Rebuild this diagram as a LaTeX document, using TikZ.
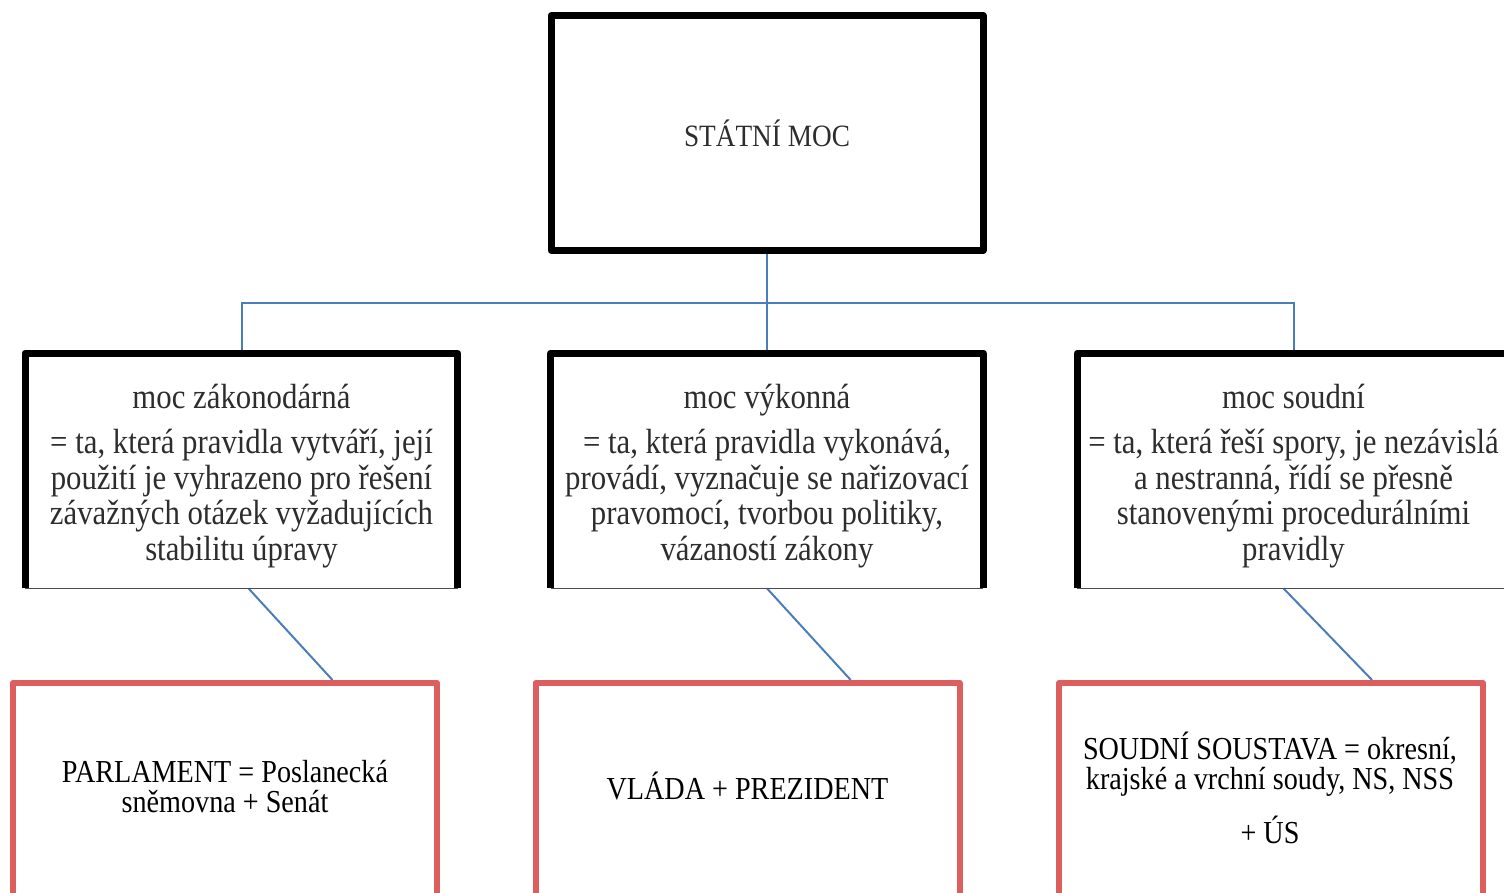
\documentclass[tikz,border=0pt]{standalone}
\usepackage{fontspec}
\setmainfont{Liberation Serif}[FakeStretch=0.88]
\usetikzlibrary{calc,backgrounds}
\definecolor{linkblue}{RGB}{74,126,187}
\definecolor{boxred}{RGB}{221,94,94}
\definecolor{inktext}{RGB}{45,45,45}
\tikzset{
    powerbox/.style={draw=black, line width=3.5pt, line join=round, minimum width=216pt, minimum height=117.5pt, inner sep=0pt},
    branchbox/.style={minimum width=216pt, minimum height=117.25pt, inner sep=0pt},
    branchtext/.style={align=center, text=inktext, font=\fontsize{17.5}{17.8}\selectfont},
    organbox/.style={draw=boxred, line width=3pt, line join=round, minimum width=212pt, minimum height=125pt, anchor=north},
    organtext/.style={align=center, font=\fontsize{16}{15}\selectfont},
    link/.style={draw=linkblue, line width=1pt}
}
\begin{document}
\begin{tikzpicture}[x=0.5pt, y=-0.5pt]
    \useasboundingbox (0,0) rectangle (1504,893);
    \node[powerbox, text=inktext, font=\fontsize{15.5}{18}\selectfont] (stat) at (767,133) {STÁTNÍ MOC};
    \node[branchbox] (zak) at (241.5,470.75) {};
    \node[branchbox] (vyk) at (767,470.75) {};
    \node[branchbox] (soud) at (1293.5,470.75) {};
    \foreach \b in {zak, vyk, soud} {
        \draw[line width=3.5pt, line join=round] (\b.south west) -- (\b.north west) -- (\b.north east) -- (\b.south east);
        \draw[black!70, line width=0.6pt] (\b.south west) -- (\b.south east);
    }
    \node[branchtext] (zaktxt) at (241.5,476) {moc zákonodárná\\[5pt] = ta, která pravidla vytváří, její\\ použití je vyhrazeno pro řešení\\ závažných otázek vyžadujících\\ stabilitu úpravy};
    \node[branchtext] (vyktxt) at (767,476) {moc výkonná\\[5pt] = ta, která pravidla vykonává,\\ provádí, vyznačuje se nařizovací\\ pravomocí, tvorbou politiky,\\ vázaností zákony};
    \node[branchtext] (soudtxt) at (1293.5,476) {moc soudní\\[5pt] = ta, která řeší spory, je nezávislá\\ a nestranná, řídí se přesně\\ stanovenými procedurálními\\ pravidly};
    \node[organbox] (parl) at (225,680) {};
    \node[organbox] (vlada) at (747.5,680) {};
    \node[organbox] (soust) at (1271,680) {};
    \node[organtext] (parltxt) at (225,787) {PARLAMENT = Poslanecká\\ sněmovna + Senát};
    \node[organtext] (vladatxt) at (747.5,786) {VLÁDA + PREZIDENT};
    \node[organtext] (sousttxt) at (1270,788) {SOUDNÍ SOUSTAVA = okresní,\\ krajské a vrchní soudy, NS, NSS\\[9pt] + ÚS};
    \begin{scope}[on background layer]
        \coordinate (bus) at (767,303);
        \draw[link] (stat.south) -- (bus);
        \draw[link] (bus) -| (zak.north);
        \draw[link] (bus) -- (vyk.north);
        \draw[link] (bus) -| (soud.north);
        \draw[link] ($(zak.south)+(7,0)$) -- ($(parl.north)!0.5!(parl.north east)$);
        \draw[link] (vyk.south) -- ($(vlada.north)!0.48!(vlada.north east)$);
        \draw[link] ($(soud.south)+(-10,0)$) -- ($(soust.north)!0.47!(soust.north east)$);
    \end{scope}
\end{tikzpicture}
\end{document}
